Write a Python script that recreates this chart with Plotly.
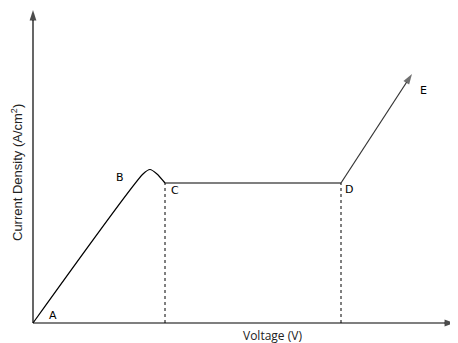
import plotly.graph_objects as go

# Schematic data (arbitrary units)
rise_x = [0, 110, 117, 124, 132]
rise_y = [0, 149, 153.5, 149, 140]
plateau_x = [132, 308, 379]
plateau_y = [140, 140, 249]
point_labels = ["A", "B", "C", "D", "E"]
point_x = [0, 117, 132, 308, 379]
point_y = [0, 153.5, 140, 140, 249]
x_axis_end = 422
y_axis_end = 313

fig = go.Figure()
fig.add_trace(go.Scatter(x=rise_x, y=rise_y, mode="lines",
                         line=dict(color="black", width=1.2, shape="spline", smoothing=0.6),
                         hoverinfo="skip"))
fig.add_trace(go.Scatter(x=plateau_x[:2], y=plateau_y[:2], mode="lines",
                         line=dict(color="black", width=1.2), hoverinfo="skip"))
for xv, yv in [(point_x[2], point_y[2]), (point_x[3], point_y[3])]:
    fig.add_trace(go.Scatter(x=[xv, xv], y=[0, yv], mode="lines",
                             line=dict(color="black", width=1, dash="dot"), hoverinfo="skip"))

def arrow_line(x0, y0, x1, y1, color):
    fig.add_trace(go.Scatter(
        x=[x0, x1], y=[y0, y1], mode="lines+markers",
        line=dict(color=color, width=1.2),
        marker=dict(symbol="arrow", size=[0, 11], angleref="previous", color=color,
                    line=dict(width=0)),
        hoverinfo="skip"))

arrow_line(0, 0, 0, y_axis_end, "black")
arrow_line(0, 0, x_axis_end, 0, "black")
arrow_line(plateau_x[1], plateau_y[1], plateau_x[2], plateau_y[2], "#333")

offsets = [(20, 8), (-30, -8), (10, -7), (8, -6), (11, -16)]
for lab, xv, yv, (dx, dy) in zip(point_labels, point_x, point_y, offsets):
    fig.add_annotation(x=xv, y=yv, text=lab, showarrow=False, xshift=dx, yshift=dy,
                       font=dict(family="DejaVu Sans", size=11, color="black"))

fig.add_annotation(x=239, y=-12, text="Voltage (V)", showarrow=False,
                   font=dict(family="Open Sans", size=12, color="#222"))
fig.add_annotation(x=-16, y=150, text="Current Density (A/cm<sup>2</sup>)", showarrow=False,
                   textangle=-90,
                   font=dict(family="Liberation Sans Narrow, Arial Narrow, sans-serif", size=13, color="#222"))

fig.update_layout(width=450, height=335, margin=dict(l=0, r=0, t=0, b=0),
                  plot_bgcolor="white", paper_bgcolor="white", showlegend=False,
                  xaxis=dict(range=[-25, 425], visible=False, fixedrange=True),
                  yaxis=dict(range=[-20, 315], visible=False, fixedrange=True))
fig.write_html("out.html")
